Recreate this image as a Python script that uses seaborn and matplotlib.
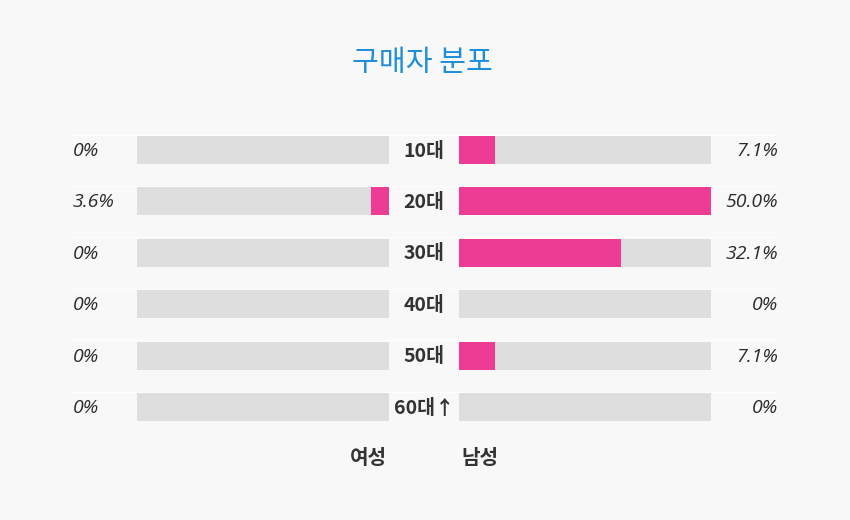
import matplotlib
matplotlib.use("Agg")
import matplotlib.pyplot as plt
import matplotlib.transforms as mtransforms
import seaborn as sns
import pandas as pd

# ---- data ----
categories = ["10대", "20대", "30대", "40대", "50대", "60대↑"]
female_pct = [0.0, 3.6, 0.0, 0.0, 0.0, 0.0]
male_pct = [7.1, 50.0, 32.1, 0.0, 7.1, 0.0]
female_labels = ["0%", "3.6%", "0%", "0%", "0%", "0%"]
male_labels = ["7.1%", "50.0%", "32.1%", "0%", "7.1%", "0%"]
scale_max = 50.0
title = "구매자 분포"
group_labels = ["여성", "남성"]

sns.set_theme(style="white")
plt.rcParams["font.family"] = ["Noto Sans CJK KR", "DejaVu Sans"]

BG = "#f8f8f8"
GREY = "#dedede"
PINK = "#ec3c94"
TEXT = "#2b2b2b"

W, H = 850, 520
fig = plt.figure(figsize=(W / 100, H / 100), dpi=100, facecolor=BG)

df = pd.DataFrame({"cat": categories, "female": female_pct, "male": male_pct,
                   "full": [scale_max] * len(categories)})

row_top, row_bot = 124.3, 432.7
bar_w = 28 / 51.4


def px_axes(x0, x1):
    return fig.add_axes([x0 / W, 1 - row_bot / H, (x1 - x0) / W, (row_bot - row_top) / H])


axL = px_axes(137, 389)
axR = px_axes(459, 711)

for ax, col in ((axL, "female"), (axR, "male")):
    ax.set_facecolor("none")
    sns.barplot(data=df, x="full", y="cat", order=categories, color=GREY,
                width=bar_w, ax=ax, saturation=1, linewidth=0)
    sns.barplot(data=df, x=col, y="cat", order=categories, color=PINK,
                width=bar_w, ax=ax, saturation=1, linewidth=0)
    ax.set_xlim(0, scale_max)
    ax.set_ylim(len(categories) - 0.5, -0.5)
    ax.axis("off")

axL.invert_xaxis()

# faint separators above each row
for i in range(len(categories)):
    y = 1 - (150 + i * 51.4 - 15.5) / H
    fig.add_artist(plt.Line2D([72 / W, 778 / W], [y, y], color="#fdfdfd", lw=1.0, zorder=0))

trL = mtransforms.blended_transform_factory(fig.transFigure, axL.transData)
for i, (cat, fl, ml) in enumerate(zip(categories, female_labels, male_labels)):
    yy = i + 0.02
    fig.text(73 / W, yy, fl, transform=trL, ha="left", va="center", fontsize=14,
             style="italic", family=["Open Sans", "DejaVu Sans"], color=TEXT)
    fig.text(778 / W, yy, ml, transform=trL, ha="right", va="center", fontsize=14,
             style="italic", family=["Open Sans", "DejaVu Sans"], color=TEXT)
    fig.text(424 / W, yy, cat, transform=trL, ha="center", va="center", fontsize=14,
             fontweight="bold", color="#333333")

fig.text(368 / W, 1 - 457 / H, group_labels[0], ha="center", va="center", fontsize=14.5,
         fontweight="bold", color="#333333")
fig.text(480 / W, 1 - 457 / H, group_labels[1], ha="center", va="center", fontsize=14.5,
         fontweight="bold", color="#333333")

fig.text(422 / W, 1 - 63 / H, title, ha="center", va="center", fontsize=21,
         color="#1e8ed8")

fig.savefig("out.png", dpi=100, facecolor=BG)
